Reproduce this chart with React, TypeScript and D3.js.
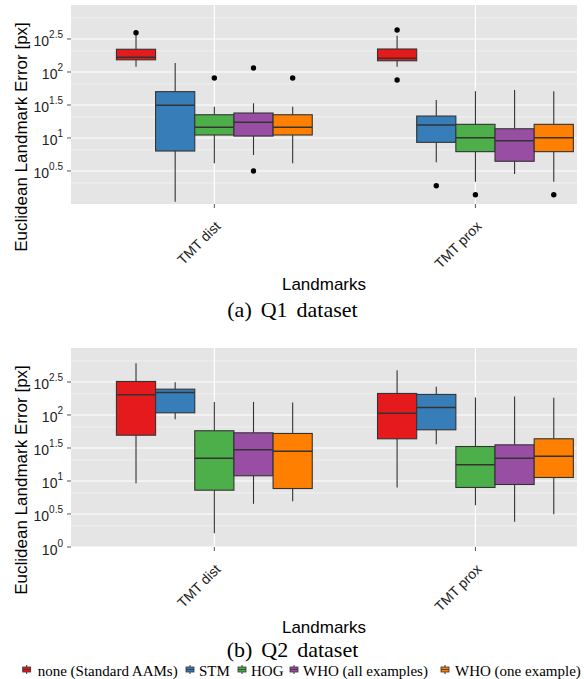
import React from 'react';
import * as d3 from 'd3';

const width = 584;
const height = 679;

const methods = ['none (Standard AAMs)', 'STM', 'HOG', 'WHO (all examples)', 'WHO (one example)'];
const colors = ['#E41A1C', '#377EB8', '#4DAF4A', '#984EA3', '#FF7F00'];
const landmarks = ['TMT dist', 'TMT prox'];

// each row: [lower whisker, Q1, median, Q3, upper whisker], error in px
const q1Dist = [
  [120, 153, 167, 221, 364],
  [1.08, 6.35, 31.3, 50.4, 137],
  [4.14, 11.1, 14.5, 22.5, 29.8],
  [5.52, 10.7, 17.3, 23.9, 33.6],
  [4.14, 11.1, 14.5, 22.5, 29.8],
];
const q1Prox = [
  [120, 148, 161, 223, 355],
  [4.29, 8.59, 15.7, 21.5, 37.7],
  [2.18, 6.21, 10.1, 16.1, 50.9],
  [2.85, 4.44, 9.1, 13.8, 53.3],
  [2.18, 6.21, 10.1, 16.1, 50.9],
];
const q1DistOutliers = [[394], [], [81.1], [115, 3.16], [81.1]];
const q1ProxOutliers = [[432, 75.7], [1.89], [1.38], [], [1.38]];

const q2Dist = [
  [9.27, 49.4, 202, 322, 610],
  [86.3, 108, 219, 246, 314],
  [1.62, 7.26, 22.2, 57.7, 158],
  [4.51, 12.0, 29.7, 53.7, 158],
  [4.94, 7.69, 28.3, 52.5, 155],
];
const q2Prox = [
  [7.98, 43.6, 106, 212, 478],
  [36.1, 59.7, 130, 205, 267],
  [4.3, 7.98, 17.6, 33.3, 184],
  [2.41, 8.85, 22.1, 35.3, 191],
  [3.14, 11.3, 23.8, 43.6, 182],
];
const q2DistOutliers = [[], [], [], [], []];
const q2ProxOutliers = [[], [], [], [], []];

// y axis breaks as powers of ten
const q1TickExps = ['0.5', '1', '1.5', '2', '2.5'];
const q2TickExps = ['0', '0.5', '1', '1.5', '2', '2.5'];
const minorExps = [0.32, 0.82, 1.32, 1.82, 2.32, 2.82];

const legendX = [22.7, 186, 238, 290, 441];
const legendTextX = [37.7, 199, 251, 303, 455];

const plotLeft = 71;
const plotRight = 577;
const plotH = 199;

interface PanelProps {
  top: number;
  stats: number[][][];
  outliers: number[][][];
  tickExps: string[];
  caption: string;
  captionY: number;
}

const Panel: React.FC<PanelProps> = ({ top, stats, outliers, tickExps, caption, captionY }) => {
  const bottom = top + plotH;
  const x = d3.scaleLinear().domain([0.451, 2.389]).range([plotLeft, plotRight]);
  const y = d3.scaleLog().domain([1, Math.pow(10, 3.015)]).range([bottom, top]);
  const dodge = 0.15;
  const bw = x(1 + dodge) - x(1);
  const dark = '#333333';

  return (
    <g>
      <rect x={plotLeft} y={top} width={plotRight - plotLeft} height={plotH} fill="#E5E5E5" />
      {minorExps.map((e) => (
        <line key={'mn' + e} x1={plotLeft} x2={plotRight} y1={y(Math.pow(10, e))} y2={y(Math.pow(10, e))}
          stroke="#F2F2F2" strokeWidth={0.8} />
      ))}
      {tickExps.map((e) => (
        <line key={'mj' + e} x1={plotLeft} x2={plotRight} y1={y(Math.pow(10, +e))} y2={y(Math.pow(10, +e))}
          stroke="#FFFFFF" strokeWidth={1.2} />
      ))}
      {landmarks.map((l, i) => (
        <line key={'vx' + l} x1={x(i + 1)} x2={x(i + 1)} y1={top} y2={bottom} stroke="#FFFFFF" strokeWidth={1.2} />
      ))}

      {stats.map((group, i) =>
        group.map((s, m) => {
          const cx = x(i + 1 + (m - 2) * dodge);
          const [wl, q1, med, q3, wu] = s;
          return (
            <g key={`b${i}-${m}`}>
              <line x1={cx} x2={cx} y1={y(wu)} y2={y(q3)} stroke={dark} strokeWidth={1.1} />
              <line x1={cx} x2={cx} y1={y(q1)} y2={y(wl)} stroke={dark} strokeWidth={1.1} />
              <rect x={cx - bw / 2} y={y(q3)} width={bw} height={y(q1) - y(q3)} fill={colors[m]}
                stroke={dark} strokeWidth={1.1} />
              <line x1={cx - bw / 2} x2={cx + bw / 2} y1={y(med)} y2={y(med)} stroke={dark} strokeWidth={1.5} />
              {outliers[i][m].map((o, k) => (
                <circle key={k} cx={cx} cy={y(o)} r={2.7} fill="#000" />
              ))}
            </g>
          );
        })
      )}

      {/* y axis */}
      {tickExps.map((e) => {
        const ty = y(Math.pow(10, +e));
        return (
          <g key={'yt' + e}>
            <line x1={67} x2={plotLeft} y1={ty} y2={ty} stroke="#555" strokeWidth={1} />
            <text x={63} y={ty + 7.5} textAnchor="end" fontSize={14} fill="#222"
              fontFamily="'Liberation Sans', Arial, sans-serif">
              10<tspan dy={-8} fontSize={10}>{e}</tspan>
            </text>
          </g>
        );
      })}

      {/* x axis */}
      {landmarks.map((l, i) => (
        <g key={'xt' + l}>
          <line x1={x(i + 1)} x2={x(i + 1)} y1={bottom} y2={bottom + 4} stroke="#555" strokeWidth={1} />
          <text transform={`translate(${x(i + 1)},${bottom + 16}) rotate(-45)`} textAnchor="end" dy="0.72em"
            fontSize={14} fill="#222" fontFamily="'Liberation Sans', Arial, sans-serif">
            {l}
          </text>
        </g>
      ))}

      <text x={(plotLeft + plotRight) / 2} y={bottom + 86} textAnchor="middle" fontSize={17}
        fontFamily="'Liberation Sans', Arial, sans-serif">Landmarks</text>
      <text transform={`translate(27,${top + 132}) rotate(-90)`} textAnchor="middle" fontSize={17}
        fontFamily="'Liberation Sans', Arial, sans-serif">Euclidean Landmark Error [px]</text>

      <text x={292.5} y={captionY} textAnchor="middle" fontSize={22} wordSpacing={3.5}
        fontFamily="'Liberation Serif', 'Times New Roman', serif">{caption}</text>
    </g>
  );
};

const App: React.FC = () => {
  const ly = 667;
  return (
    <svg width={width} height={height} style={{ position: 'absolute', left: 0, top: 0 }}>
      <rect width={width} height={height} fill="#FFFFFF" />
      <Panel top={5} stats={[q1Dist, q1Prox]} outliers={[q1DistOutliers, q1ProxOutliers]}
        tickExps={q1TickExps} caption="(a) Q1 dataset" captionY={317} />
      <Panel top={348} stats={[q2Dist, q2Prox]} outliers={[q2DistOutliers, q2ProxOutliers]}
        tickExps={q2TickExps} caption="(b) Q2 dataset" captionY={657} />

      {methods.map((name, m) => (
        <g key={'lg' + m}>
          <line x1={legendX[m] + 4} x2={legendX[m] + 4} y1={ly - 2} y2={ly + 7} stroke="#333" strokeWidth={1} />
          <rect x={legendX[m]} y={ly} width={8} height={5} fill={colors[m]} stroke="#333" strokeWidth={0.8} />
          <line x1={legendX[m]} x2={legendX[m] + 8} y1={ly + 2.5} y2={ly + 2.5} stroke="#333" strokeWidth={0.8} />
          <text x={legendTextX[m]} y={675.5} fontSize={15}
            fontFamily="'Liberation Serif', 'Times New Roman', serif">{name}</text>
        </g>
      ))}
    </svg>
  );
};

export default App;
